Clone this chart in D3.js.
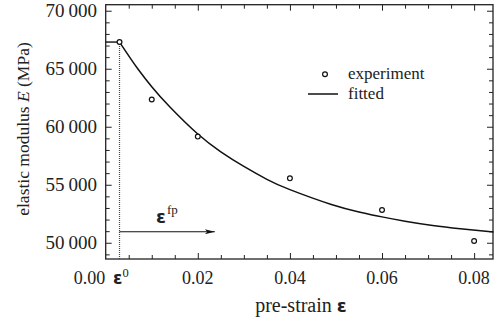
<!DOCTYPE html>
<html>
<head>
<meta charset="utf-8">
<script src="https://cdn.jsdelivr.net/npm/d3@7/dist/d3.min.js"></script>
<style>
  html, body { margin: 0; padding: 0; background: #fff; }
  svg { display: block; }
  text { font-family: "Liberation Serif", "Times New Roman", serif; fill: #222; }
  .greek { font-family: "DejaVu Sans", sans-serif; font-weight: bold; }
</style>
</head>
<body>
<svg id="chart" width="494" height="321"></svg>
<script>
// Measured elastic modulus against pre-strain
const strainExp = [0.003, 0.010, 0.020, 0.040, 0.060, 0.080];
const modulusExp = [67300, 62350, 59150, 55550, 52820, 50150];

// Fitted decay curve, sampled from the onset strain onward
const strainFit = [0.003, 0.0053, 0.007, 0.010, 0.014, 0.020, 0.025, 0.030, 0.035, 0.040, 0.049, 0.055, 0.060, 0.065, 0.071, 0.077, 0.0842];
const modulusFit = [67300, 65940, 64980, 63450, 61680, 59370, 57840, 56580, 55470, 54580, 53300, 52660, 52230, 51860, 51490, 51210, 50930];

// Onset strain and the plastic pre-strain arrow
const strainOnset = 0.003;
const arrowStrain = [0.003, 0.0237];
const arrowModulus = 50950;

// Tick labels
const xTickValues = [0.02, 0.04, 0.06, 0.08];
const yTickValues = [50000, 55000, 60000, 65000, 70000];

const svg = d3.select("#chart");
const plot = { left: 105.7, right: 493, top: 4.7, bottom: 259 };

const x = d3.scaleLinear().domain([0, 0.0841]).range([plot.left, plot.right]);
const y = d3.scaleLinear().domain([48600, 70520]).range([plot.bottom, plot.top]);

const fmtX = d3.format(".2f");

// Minor and major ticks on all four sides, pointing inward
const xMinor = d3.range(0.005, 0.0841, 0.005).filter(v => Math.abs(v / 0.02 - Math.round(v / 0.02)) > 1e-6);
const yMinor = d3.range(49000, 70520, 1000).filter(v => v % 5000 !== 0);

function tickAxis(axisFn, scale, values, size) {
  return axisFn(scale).tickValues(values).tickSize(size).tickFormat("");
}

[[xMinor, 4], [xTickValues, 6]].forEach(([vals, len]) => {
  svg.append("g").attr("transform", `translate(0,${plot.bottom})`)
    .call(tickAxis(d3.axisTop, x, vals, len));
  svg.append("g").attr("transform", `translate(0,${plot.top})`)
    .call(tickAxis(d3.axisBottom, x, vals, len));
});
[[yMinor, 4], [yTickValues, 6]].forEach(([vals, len]) => {
  svg.append("g").attr("transform", `translate(${plot.left},0)`)
    .call(tickAxis(d3.axisRight, y, vals, len));
  svg.append("g").attr("transform", `translate(${plot.right},0)`)
    .call(tickAxis(d3.axisLeft, y, vals, len));
});
svg.selectAll(".domain").remove();
svg.selectAll(".tick line").attr("stroke", "#222").attr("stroke-width", 1);

// Frame
svg.append("rect")
  .attr("x", plot.left).attr("y", plot.top)
  .attr("width", plot.right - plot.left).attr("height", plot.bottom - plot.top)
  .attr("fill", "none").attr("stroke", "#222").attr("stroke-width", 1.3);

// Tick labels
const fs = 18;
svg.append("g").selectAll("text").data(xTickValues).join("text")
  .attr("x", d => x(d)).attr("y", 284)
  .attr("text-anchor", "middle").attr("font-size", fs)
  .text(fmtX);
svg.append("text")
  .attr("x", x(0) - 0.5).attr("y", 284)
  .attr("text-anchor", "end").attr("font-size", fs)
  .text(fmtX(0));
const onsetLabel = svg.append("text")
  .attr("x", x(strainOnset) - 6.5).attr("y", 284).attr("font-size", fs);
onsetLabel.append("tspan").attr("class", "greek").attr("font-size", 17).text("ε");
onsetLabel.append("tspan").attr("font-size", 12.5).attr("dy", -7).text("0");

// Y tick labels with a digit-group gap between thousands and units
const yLabels = svg.append("g").selectAll("text").data(yTickValues).join("text")
  .attr("x", 97).attr("y", d => y(d) + 6.5)
  .attr("text-anchor", "end").attr("font-size", 19);
yLabels.append("tspan").text(d => String(Math.floor(d / 1000)));
yLabels.append("tspan").attr("dx", 4).text(d => d3.format("03d")(d % 1000));

// Axis titles
const xTitle = svg.append("text")
  .attr("x", 301).attr("y", 312)
  .attr("text-anchor", "middle").attr("font-size", 20);
xTitle.append("tspan").text("pre-strain ");
xTitle.append("tspan").attr("class", "greek").attr("font-size", 18).text("ε");

const yTitle = svg.append("text")
  .attr("transform", `translate(29,129) rotate(-90)`)
  .attr("text-anchor", "middle").attr("font-size", 17.5);
yTitle.append("tspan").text("elastic modulus ");
yTitle.append("tspan").attr("font-style", "italic").text("E");
yTitle.append("tspan").text(" (MPa)");

// Dotted marker of the onset strain
svg.append("line")
  .attr("x1", x(strainOnset)).attr("x2", x(strainOnset))
  .attr("y1", y(modulusFit[0])).attr("y2", plot.bottom)
  .attr("stroke", "#444").attr("stroke-width", 1.2).attr("stroke-dasharray", "1,1");

// Plateau before onset, then the fitted curve
svg.append("line")
  .attr("x1", x(0)).attr("x2", x(strainOnset))
  .attr("y1", y(modulusFit[0])).attr("y2", y(modulusFit[0]))
  .attr("stroke", "#111").attr("stroke-width", 1.4);

const fitLine = d3.line().x(d => x(d[0])).y(d => y(d[1])).curve(d3.curveNatural);
svg.append("path")
  .datum(d3.zip(strainFit, modulusFit))
  .attr("d", fitLine)
  .attr("fill", "none").attr("stroke", "#111").attr("stroke-width", 1.5);

// Experimental points
svg.append("g").selectAll("circle").data(d3.zip(strainExp, modulusExp)).join("circle")
  .attr("cx", d => x(d[0])).attr("cy", d => y(d[1])).attr("r", 2.4)
  .attr("fill", "#fff").attr("stroke", "#111").attr("stroke-width", 1.2);

// Arrow for the plastic pre-strain
svg.append("defs").append("marker")
  .attr("id", "head").attr("viewBox", "0 0 12 6")
  .attr("refX", 12).attr("refY", 3)
  .attr("markerWidth", 12).attr("markerHeight", 5)
  .attr("markerUnits", "userSpaceOnUse").attr("orient", "auto")
  .append("path").attr("d", "M0,0 L12,3 L0,6 L3,3 Z").attr("fill", "#111");
svg.append("line")
  .attr("x1", x(arrowStrain[0])).attr("x2", x(arrowStrain[1]))
  .attr("y1", y(arrowModulus)).attr("y2", y(arrowModulus))
  .attr("stroke", "#111").attr("stroke-width", 1.2)
  .attr("marker-end", "url(#head)");
const fpLabel = svg.append("text")
  .attr("x", 156).attr("y", 223).attr("font-size", fs);
fpLabel.append("tspan").attr("class", "greek").attr("font-size", 18).text("ε");
fpLabel.append("tspan").attr("font-size", 13).attr("dx", 1).attr("dy", -9).text("fp");

// Legend
const legend = svg.append("g");
legend.append("circle").attr("cx", 325).attr("cy", 74.3).attr("r", 2.4)
  .attr("fill", "#fff").attr("stroke", "#111").attr("stroke-width", 1.2);
legend.append("text").attr("x", 348).attr("y", 79).attr("font-size", 17).text("experiment");
legend.append("line").attr("x1", 308).attr("x2", 338).attr("y1", 94).attr("y2", 94)
  .attr("stroke", "#111").attr("stroke-width", 1.5);
legend.append("text").attr("x", 348).attr("y", 99).attr("font-size", 17).text("fitted");
</script>
</body>
</html>
